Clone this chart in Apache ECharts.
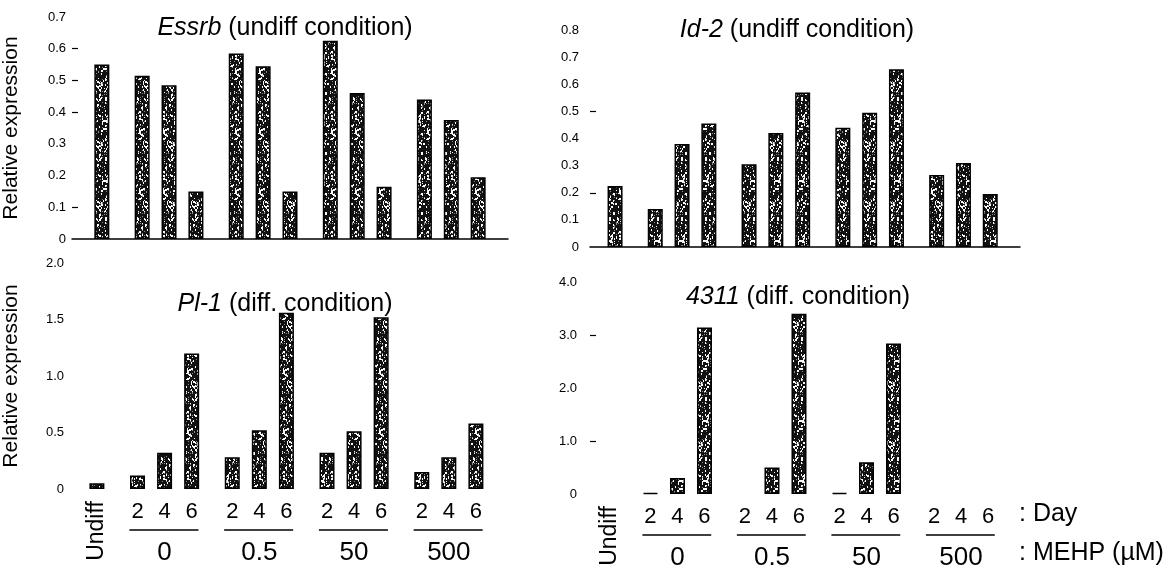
<!DOCTYPE html>
<html>
<head>
<meta charset="utf-8">
<title>Relative expression - MEHP</title>
<script src="https://cdn.jsdelivr.net/npm/echarts@6/dist/echarts.min.js"></script>
<style>
html, body {margin: 0; padding: 0; background: #fff;}
#chart {width: 1172px; height: 582px;}
</style>
</head>
<body>
<div id="chart"></div>
<script>
// 数据: Undiff first, then dose 0 / 0.5 / 50 / 500, each day 2 / 4 / 6
var doses = ['0', '0.5', '50', '500'];
var days = ['2', '4', '6'];
var essrb = [0.55, 0.515, 0.485, 0.15, 0.585, 0.545, 0.15, 0.625, 0.46, 0.165, 0.44, 0.375, 0.195];
var id2 = [0.225, 0.14, 0.38, 0.455, 0.305, 0.42, 0.57, 0.44, 0.495, 0.655, 0.265, 0.31, 0.195];
var pl1 = [0.05, 0.12, 0.32, 1.2, 0.28, 0.52, 1.56, 0.32, 0.51, 1.52, 0.15, 0.28, 0.58];
var g4311 = [0, 0.02, 0.3, 3.14, 0, 0.5, 3.4, 0.02, 0.6, 2.84, 0, 0, 0];

// the little dashes on the y axes
var essrbTicks = [0.1, 0.4, 0.5, 0.6];
var id2Ticks = [0.2, 0.5];
var g4311Ticks = [1, 3];

var FONT = 'Liberation Sans, Arial, sans-serif';

// slot position on the x axis (undiff = 0, groups 7 slots apart)
function pos(g, d) {
    return g < 0 ? 0 : 3 + 7 * g + 2 * d;
}

// scanned halftone look for the bars
function speckle() {
    var c = document.createElement('canvas');
    c.width = 24;
    c.height = 60;
    var ctx = c.getContext('2d');
    ctx.fillStyle = '#111';
    ctx.fillRect(0, 0, c.width, c.height);
    var s = 12345;
    for (var i = 0; i < c.width * c.height / 2; i++) {
        s = (s * 16807) % 2147483647;
        var r = s / 2147483647;
        if (r < 0.3) {
            ctx.fillStyle = r < 0.2 ? '#fafafa' : '#8c8c8c';
            var x = (i * 2) % c.width;
            var y = Math.floor((i * 2) / c.width);
            ctx.fillRect(x + (r < 0.1 ? 1 : 0), y, r < 0.05 ? 2 : 1, r < 0.15 ? 2 : 1);
        }
    }
    return c;
}
var pattern = {image: speckle(), repeat: 'repeat'};

function barData(vals) {
    return vals.map(function (v, i) {
        var x = i === 0 ? pos(-1, 0) : pos(Math.floor((i - 1) / 3), (i - 1) % 3);
        var item = {value: [x, v]};
        if (v === 0) item.itemStyle = {borderWidth: 0};
        return item;
    });
}

function barSeries(idx, vals) {
    return {
        type: 'bar',
        xAxisIndex: idx,
        yAxisIndex: idx,
        barWidth: 15,
        silent: true,
        itemStyle: {color: pattern, borderColor: '#000', borderWidth: 1.5},
        data: barData(vals)
    };
}

// day numbers, group underline, dose and "Undiff" under the lower panels
function xLabelSeries(idx) {
    return {
        type: 'custom',
        xAxisIndex: idx,
        yAxisIndex: idx,
        silent: true,
        data: [[-1, 0], [0, 0], [1, 0], [2, 0], [3, 0]],
        renderItem: function (params, api) {
            var g = api.value(0);
            var base = api.coord([0, 0])[1];
            if (g < 0) {
                var p = api.coord([pos(-1, 0), 0]);
                return {
                    type: 'text', x: p[0], y: base + 42, rotation: Math.PI / 2,
                    style: {text: 'Undiff', font: '23px ' + FONT, fill: '#000', align: 'center', verticalAlign: 'middle'}
                };
            }
            var children = [];
            for (var d = 0; d < days.length; d++) {
                var c = api.coord([pos(g, d), 0]);
                children.push({
                    type: 'text', x: c[0], y: base + 23,
                    style: {text: days[d], font: '22px ' + FONT, fill: '#000', align: 'center', verticalAlign: 'middle'}
                });
            }
            var a = api.coord([pos(g, 0) - 0.6, 0]);
            var b = api.coord([pos(g, 2) + 0.5, 0]);
            children.push({
                type: 'line',
                shape: {x1: a[0], y1: base + 41, x2: b[0], y2: base + 41},
                style: {stroke: '#000', lineWidth: 1.5}
            });
            var m = api.coord([pos(g, 1), 0]);
            children.push({
                type: 'text', x: m[0], y: base + 64,
                style: {text: doses[g], font: '26px ' + FONT, fill: '#000', align: 'center', verticalAlign: 'middle'}
            });
            return {type: 'group', children: children};
        }
    };
}

function yAxis(idx, max, interval, ticks, margin, name) {
    return {
        type: 'value',
        gridIndex: idx,
        min: 0,
        max: max,
        interval: interval,
        name: name || '',
        nameLocation: 'middle',
        nameGap: 50,
        nameTextStyle: {fontSize: 21, color: '#000', fontFamily: FONT},
        axisLine: {show: false, onZero: false},
        splitLine: {show: false},
        axisTick: ticks ? {show: true, inside: true, length: 6, customValues: ticks, lineStyle: {color: '#000', width: 1.2}} : {show: false},
        axisLabel: {
            color: '#000', fontSize: 13, fontFamily: FONT, margin: margin,
            formatter: function (v) { return v === 0 ? '0' : v.toFixed(1); }
        }
    };
}

function xAxis(idx, min, max, line) {
    return {
        type: 'value',
        gridIndex: idx,
        min: min,
        max: max,
        axisLine: {show: line, onZero: false, lineStyle: {color: '#000', width: 1.5}},
        axisTick: {show: false},
        axisLabel: {show: false},
        splitLine: {show: false}
    };
}

function titleOf(x, y, gene, rest) {
    return {
        text: '{i|' + gene + '}' + rest,
        left: x,
        top: y,
        textAlign: 'center',
        textStyle: {
            fontSize: 25, fontWeight: 'normal', color: '#000', fontFamily: FONT,
            rich: {i: {fontSize: 25, fontStyle: 'italic', color: '#000', fontFamily: FONT}}
        }
    };
}

var myChart = echarts.init(document.getElementById('chart'), null, {renderer: 'canvas'});
var option = {
    backgroundColor: '#fff',
    animation: false,
    title: [
        titleOf(280, 11, 'Essrb', ' (undiff condition)'),
        titleOf(792, 13, 'Id-2', ' (undiff condition)'),
        titleOf(280, 287, 'Pl-1', ' (diff. condition)'),
        titleOf(793, 280, '4311', ' (diff. condition)')
    ],
    grid: [
        {left: 70, top: 17, width: 438, height: 222},
        {left: 590, top: 30, width: 430, height: 217},
        {left: 70, top: 263, width: 430, height: 226},
        {left: 590, top: 282, width: 430, height: 212}
    ],
    xAxis: [
        xAxis(0, -2.22, 30.22, true),
        xAxis(1, -1.87, 30.22, true),
        xAxis(2, -1.84, 29.78, false),
        xAxis(3, -1.48, 30.37, false)
    ],
    yAxis: [
        yAxis(0, 0.7, 0.1, essrbTicks, 6, 'Relative expression'),
        yAxis(1, 0.8, 0.1, id2Ticks, 11),
        yAxis(2, 2, 0.5, null, 8, 'Relative expression'),
        yAxis(3, 4, 1, g4311Ticks, 13)
    ],
    series: [
        barSeries(0, essrb),
        barSeries(1, id2),
        barSeries(2, pl1),
        barSeries(3, g4311),
        xLabelSeries(2),
        xLabelSeries(3)
    ],
    graphic: [
        {type: 'text', left: 1019, top: 502, style: {text: ': Day', font: '25px ' + FONT, fill: '#000'}},
        {type: 'text', left: 1019, top: 541, style: {text: ': MEHP (\u00b5M)', font: '25px ' + FONT, fill: '#000'}}
    ]
};

myChart.setOption(option);
</script>
</body>
</html>
